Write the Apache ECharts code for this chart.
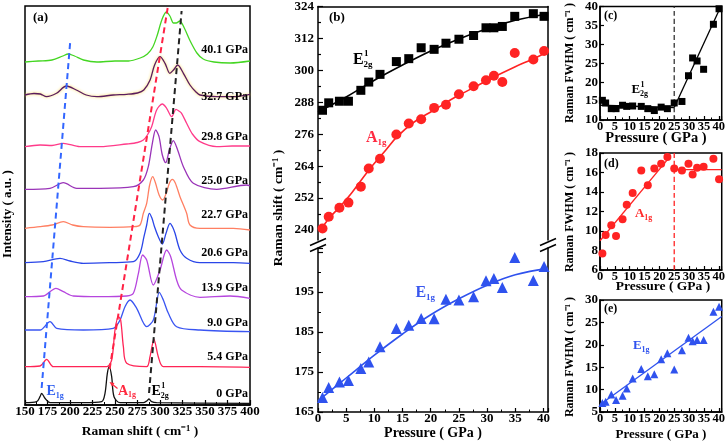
<!DOCTYPE html>
<html><head><meta charset="utf-8">
<script src="https://cdn.jsdelivr.net/npm/echarts@6/dist/echarts.min.js"></script>
<style>html,body{margin:0;padding:0;background:#fff}#c{width:728px;height:442px}</style>
</head><body><div id="c"></div>
<script>
// ================= DATA =================
// (a) Raman spectra: [Raman shift (cm-1), stacked intensity (a.u.)]
const spec40 = [[150,343],[165,344],[180,345],[192,349],[198,351],[205,349],[215,345],[230,343],[250,344],[265,344],[278,347],[286,351],[292,358],[297,370],[302,385],[307,393],[311,389],[315,382],[318,382],[322,384],[327,377],[333,365],[341,352],[348,346],[360,343],[378,342],[400,344]];
const spec32 = [[150,310],[160,311.5],[167,311],[174,308.3],[185,311.7],[196,319],[207,315],[218,310],[230,308.3],[248,310],[263,310.7],[275,312],[282,315],[289,325],[294,340],[300,348.3],[305.6,341.7],[311,331.7],[315,335],[319.6,340],[326,331.7],[333.3,320],[340,313],[344.4,310],[363,308.3],[381.5,308.3],[400,310.7]];
const spec29 = [[150,258.3],[166.7,260],[180,259.5],[192.6,261.7],[211,258.3],[233.3,258.3],[263,261],[275,262.5],[281.5,265],[286,270],[290.7,278.3],[296.3,295],[302.6,301],[307.4,296.7],[313,288.3],[317.8,295.7],[321,294],[324,291.7],[329.6,281.7],[336,271],[344.4,263.3],[363,258.3],[380,259],[400,259]];
const spec25 = [[150,215.7],[177.8,216.7],[192.6,222.3],[207.4,216.7],[233.3,216.7],[270.4,218.3],[281.5,225],[287,238.3],[291.5,261.7],[295.2,275],[298.9,268.3],[302.6,250],[306.3,242.3],[310.4,255],[314.8,264.3],[319.6,255],[326,238.3],[337,221.7],[363,215.7],[396.3,220],[400,219]];
const spec22 = [[150,176.7],[166.7,178.3],[180,180],[192.6,183.3],[203,180],[214.8,178.3],[244.4,177.7],[270.4,178.3],[277.8,180],[281.5,191.7],[285.2,201.7],[288.5,220],[291.9,228.3],[295,222],[299,210],[303,205],[307,212],[310.5,222],[313.7,225.7],[317,222],[322.2,208.3],[329.6,191.7],[333.3,180],[344.4,176.7],[381.5,176.7],[400,175]];
const spec20 = [[150,142.3],[170.4,143.3],[188.9,146.7],[200,144],[214.8,141.7],[244.4,142.3],[270.4,143.3],[277.8,151.7],[282.2,168.3],[285.2,180],[288.1,191.7],[291,187],[294,178],[298.1,168.3],[302.6,161],[306.7,171.7],[311.1,181.7],[314,178],[316.7,171.7],[322.2,155],[329.6,146.7],[344.4,142.3],[381.5,142.3],[400,141.7]];
const spec13 = [[150,108.3],[170.4,109],[184.4,116.7],[192.6,113.3],[203.7,109],[233.3,108.3],[263,109],[270.4,111.7],[276,131.7],[280.7,150],[285.2,145],[292.6,120],[300,135],[307.4,155],[311.9,148.3],[318.5,125],[324,115],[344.4,107.7],[377.8,109],[400,106.7]];
const spec9  = [[150,75],[166.7,75],[177.8,83.3],[185.2,76.7],[214.8,75],[248.1,76.7],[255.6,85],[261.1,98.3],[266.7,105],[274.1,96.7],[285.2,78.3],[292.6,85],[299.3,112.7],[303.7,105],[309.3,91.7],[318.5,78.3],[344.4,75],[400,73.3]];
const spec5  = [[150,38.3],[166.7,39],[174.1,45.7],[181.5,38.3],[214.8,38.3],[240.7,38.3],[246.3,45],[250,75],[253.7,88.3],[256.3,85],[259.3,58.3],[263,41.7],[285.2,38.3],[288.9,48.3],[293.3,65.7],[298.1,48.3],[303.7,38.3],[344.4,38.3],[400,37.7]];
const spec0  = [[150,2.3],[163,3.3],[166.7,8.3],[168.5,11.7],[172.2,6.7],[177.8,2.3],[214.8,2.3],[235.2,3.3],[238.9,11.7],[241.5,31.7],[243.7,38.3],[246.3,28.3],[248.9,8.3],[255.6,2.3],[281.5,2.3],[285.2,4],[287.8,6],[290.7,3.3],[296.3,2.3],[400,1.7]];
const spectraLabels = ['40.1 GPa','32.7 GPa','29.8 GPa','25.0 GPa','22.7 GPa','20.6 GPa','13.9 GPa','9.0 GPa','5.4 GPa','0 GPa'];
// (a) guide lines following the modes
const guideE1g = [[168.5,17],[200.3,364]];
const guideA1g = [[244,36],[308.5,397]];
const guideE2g = [[287.8,12],[324,394]];

// (b)-(e) pressures (GPa)
const pressure = [0.8,1.9,3.8,5.4,7.6,9.0,11.0,13.9,16.1,18.3,20.6,22.7,25.0,27.6,29.8,31.2,32.7,34.9,38.2,40.1];
// (b) Raman shift (cm-1)
const e2gShift = [285.0,287.8,288.4,288.4,292.5,295.6,298.5,303.3,304.4,308.5,307.9,310.2,311.7,313.1,316.0,316.0,316.5,320.3,321.3,320.3];
const a1gShift = [240.6,245.0,248.4,250.3,256.3,263.1,266.8,275.9,280.0,281.6,285.9,287.1,291.0,294.0,296.3,298.0,295.6,306.5,304.1,307.3];
const e1gShift = [168.6,171.1,172.5,172.9,175.9,177.5,181.3,185.9,186.7,188.4,188.3,193.2,193.0,193.8,197.8,198.4,196.1,203.6,197.9,201.4];
const e2gFitP = [0,5,10,15,20,25,30,35,40.8];
const e2gFitV = [284.4,290.0,296.3,302.0,307.3,311.8,315.6,318.8,321.3];
const a1gFitP = [0.5,2,4,6,9,12,14,17,20.5,24,27.6,31,34.9,38,40.8];
const a1gFitV = [240,244.5,249,254,262.5,270,275,280.5,285,289.5,293.5,297.3,301.3,304.2,307];
const e1gFitP = [0,5,10,15,20,25,30,35,40.8];
const e1gFitV = [167.8,173.5,179.2,184.5,189.3,193.3,196.7,199.3,200.9];
// (c)-(e) FWHM (cm-1)
const e2gFwhm = [15.2,14.5,13.0,13.0,13.9,13.6,13.7,13.6,13.0,12.5,13.4,13.0,14.5,14.9,21.7,26.4,25.6,23.4,35.3,39.4];
const a1gFwhm = [7.7,9.6,10.6,9.5,11.2,12.7,13.9,16.2,14.7,16.4,16.9,17.6,16.4,16.2,16.9,15.8,16.5,16.6,17.4,15.3];
const e1gFwhm = [7.0,7.3,8.9,7.7,8.65,10.25,12.45,14.6,13.0,13.4,16.8,18.1,14.5,18.8,21.6,20.8,21.05,21.05,27.4,28.5];
const cFit1 = [[0,13.9],[25,13.3]];
const cFit2 = [[25,13.3],[40.8,40.2]];
const dFit1 = [[0,9.0],[23.5,17.6]];
const dFit2 = [[25,16.3],[41,16.3]];
const eFit  = [[0,6.6],[41,26.3]];
const transitionP = 25;

// ================= CHART =================
const FF = 'Liberation Serif';
const FONT = (s) => `bold ${s}px "Liberation Serif", serif`;
const lab = (s, extra) => Object.assign({fontFamily: FF, fontWeight: 'bold', fontSize: s, color: '#000'}, extra || {});
const AL = {lineStyle: {color: '#000', width: 1.5}};
const zip = (xs, ys) => xs.map((x, i) => [x, ys[i]]);

const chart = echarts.init(document.getElementById('c'), null, {renderer: 'canvas'});

const boxGrid = (l, t, w, h, show) => ({left: l, top: t, width: w, height: h, show: show, borderColor: '#000', borderWidth: 1.5, backgroundColor: 'transparent', containLabel: false});
const grids = [
  boxGrid(25, 6, 225, 399, true),     // a
  boxGrid(318, 6, 230, 234, false),   // b upper
  boxGrid(318, 248, 230, 164, false), // b lower
  boxGrid(600, 6, 122, 114, true),    // c
  boxGrid(600, 153, 122, 117, true),  // d
  boxGrid(600, 300, 122, 112, true)   // e
];

const tickIn = (len) => ({show: true, inside: true, length: len, lineStyle: {color: '#000', width: 1.2}});
const minorIn = (len) => ({show: true, splitNumber: 2, length: len, lineStyle: {color: '#000', width: 1}});
const noSplit = {show: false};

const pAxis = (gi, max, fs) => ({
  gridIndex: gi, type: 'value', min: 0, max: max, interval: 5, position: 'bottom',
  axisLine: AL, axisTick: tickIn(4), minorTick: minorIn(2.5), splitLine: noSplit, minorSplitLine: noSplit,
  axisLabel: lab(fs, {margin: 0, showMaxLabel: false})
});

const upperMajor = [240,252,264,276,288,300,312,324];
const upperMinor = [246,258,270,282,294,306,318];

const xAxes = [
  {gridIndex: 0, type: 'value', min: 150, max: 400, interval: 25, axisLine: AL, axisTick: tickIn(5), minorTick: minorIn(3), splitLine: noSplit, axisLabel: lab(13, {margin: 0})},
  {gridIndex: 1, type: 'value', min: 0, max: 40.8, position: 'top', axisLine: AL, axisTick: {show: false}, axisLabel: {show: false}, splitLine: noSplit},
  pAxis(2, 40.8, 13),
  pAxis(3, 41, 12.5),
  pAxis(4, 41, 12.5),
  pAxis(5, 41, 12.5)
];

const yAxes = [
  {gridIndex: 0, type: 'value', min: 0, max: 399, show: false},
  {gridIndex: 1, type: 'value', min: 236.25, max: 324, position: 'left', axisLine: AL,
   axisTick: Object.assign(tickIn(5), {customValues: upperMajor}),
   axisLabel: lab(13, {margin: 4, customValues: upperMajor}), splitLine: noSplit},
  {gridIndex: 1, type: 'value', min: 236.25, max: 324, position: 'left', axisLine: {show: false},
   axisTick: Object.assign(tickIn(3), {customValues: upperMinor}), axisLabel: {show: false}, splitLine: noSplit},
  {gridIndex: 1, type: 'value', min: 236.25, max: 324, position: 'right', axisLine: AL, axisTick: {show: false}, axisLabel: {show: false}, splitLine: noSplit},
  {gridIndex: 2, type: 'value', min: 165, max: 206, interval: 10, position: 'left', axisLine: AL,
   axisTick: tickIn(5), minorTick: minorIn(3), splitLine: noSplit,
   axisLabel: lab(13, {margin: 4, showMaxLabel: false, formatter: (v) => (v > 200 ? '' : String(v))})},
  {gridIndex: 2, type: 'value', min: 165, max: 206, position: 'right', axisLine: AL, axisTick: {show: false}, axisLabel: {show: false}, splitLine: noSplit},
  {gridIndex: 3, type: 'value', min: 10, max: 40, interval: 5, axisLine: AL, axisTick: tickIn(4), splitLine: noSplit, axisLabel: lab(13, {margin: 2})},
  {gridIndex: 4, type: 'value', min: 6, max: 18, interval: 2, axisLine: AL, axisTick: tickIn(4), splitLine: noSplit, axisLabel: lab(13, {margin: 2})},
  {gridIndex: 5, type: 'value', min: 5, max: 30, interval: 5, axisLine: AL, axisTick: tickIn(4), splitLine: noSplit, axisLabel: lab(13, {margin: 2})}
];

const specDefs = [
  [spec40, '#44d622', null],
  [spec32, '#5a1c5e', '#ffd84a'],
  [spec29, '#ff3b8a', null],
  [spec25, '#9a34b8', null],
  [spec22, '#ff7f62', null],
  [spec20, '#2a46e8', null],
  [spec13, '#b646de', null],
  [spec9,  '#3a55f2', null],
  [spec5,  '#ff2456', null],
  [spec0,  '#111111', null]
];

const series = [];
specDefs.forEach(([d, c, glow]) => {
  const ls = {color: c, width: 1.3};
  if (glow) { ls.shadowColor = glow; ls.shadowBlur = 3; }
  series.push({type: 'line', xAxisIndex: 0, yAxisIndex: 0, data: d, smooth: 0.3, showSymbol: false, symbol: 'none', lineStyle: ls, silent: true, z: 3});
});
[[guideE1g, '#3366ff'], [guideA1g, '#ff2244'], [guideE2g, '#222222']].forEach(([d, c]) => {
  series.push({type: 'line', xAxisIndex: 0, yAxisIndex: 0, data: d, showSymbol: false, symbol: 'none', lineStyle: {color: c, width: 2, type: [6, 4]}, z: 4});
});

const line = (xi, yi, d, c, w, type) => ({type: 'line', xAxisIndex: xi, yAxisIndex: yi, data: d, smooth: 0.4, showSymbol: false, symbol: 'none', lineStyle: {color: c, width: w || 1.5, type: type || 'solid'}, z: 3});
const scat = (xi, yi, d, c, sym, size) => ({type: 'scatter', xAxisIndex: xi, yAxisIndex: yi, data: d, symbol: sym, symbolSize: size, itemStyle: {color: c, opacity: 1}, clip: false, z: 5});

const BLK = '#000000', RED = '#ff2323', BLU = '#2f52ee';
// (b)
series.push(line(1, 1, zip(e2gFitP, e2gFitV), BLK, 1.6));
series.push(scat(1, 1, zip(pressure, e2gShift), BLK, 'rect', 9));
series.push(line(1, 1, zip(a1gFitP, a1gFitV), RED, 1.6));
series.push(scat(1, 1, zip(pressure, a1gShift), RED, 'circle', 10));
series.push(line(2, 4, zip(e1gFitP, e1gFitV), BLU, 1.6));
series.push(scat(2, 4, zip(pressure, e1gShift), BLU, 'triangle', 11));
// (c)
series.push(line(3, 6, cFit1, BLK, 1.3));
series.push(line(3, 6, cFit2, BLK, 1.3));
series.push(line(3, 6, [[transitionP, 10], [transitionP, 40]], '#333', 1.3, [5, 3]));
series.push(scat(3, 6, zip(pressure, e2gFwhm), BLK, 'rect', 7));
// (d)
series.push(line(4, 7, dFit1, RED, 1.3));
series.push(line(4, 7, dFit2, RED, 1.3));
series.push(line(4, 7, [[transitionP, 6], [transitionP, 18]], RED, 1.3, [5, 3]));
series.push(scat(4, 7, zip(pressure, a1gFwhm), RED, 'circle', 8));
// (e)
series.push(line(5, 8, eFit, BLU, 1.3));
series.push(scat(5, 8, zip(pressure, e1gFwhm), BLU, 'triangle', 8));

// ---------- graphic text ----------
const G = [];
const T = (text, x, y, size, color, align, rot) => G.push({type: 'text', x: x, y: y, rotation: rot || 0, z: 100,
  style: {text: text, fill: color || '#000', font: FONT(size), align: align || 'left', verticalAlign: 'middle'}});
// mode label: base letter + optional superscript + subscript
const mode = (x, y, base, sup, sub, color, size) => {
  const bw = (base === 'A' ? 0.72 : 0.66) * size;
  const ss = Math.round(size * 0.58);
  T(base, x, y, size, color, 'left');
  if (sup) T(sup, x + bw + 0.5, y - size * 0.42, ss, color, 'left');
  T(sub, x + bw, y + size * 0.3, ss, color, 'left');
};

// panel tags
T('(a)', 33, 18, 13); T('(b)', 329, 18, 13); T('(c)', 604, 16, 12); T('(d)', 604, 164, 12); T('(e)', 604, 309, 12);
// pressure labels in (a)
const labelY = [50, 96.7, 136.7, 180.7, 215, 253.3, 288.3, 322.7, 357.3, 394];
spectraLabels.forEach((s, i) => T(s, 248, labelY[i], 12, '#000', 'right'));
// axis titles
T('Intensity ( a.u. )', 8, 214, 13, '#000', 'center', Math.PI / 2);
T('Raman shift ( cm\u207B\u00B9 )', 140, 432, 13.5, '#000', 'center');
T('Raman shift ( cm\u207B\u00B9 )', 279, 208, 13.5, '#000', 'center', Math.PI / 2);
T('Pressure ( GPa )', 433, 433, 14, '#000', 'center');
T('Raman FWHM ( cm\u207B\u00B9 )', 570, 63, 12, '#000', 'center', Math.PI / 2);
T('Pressure ( GPa )', 656, 138.5, 14.5, '#000', 'center');
T('Raman FWHM ( cm\u207B\u00B9 )', 570, 212, 12, '#000', 'center', Math.PI / 2);
T('Pressure ( GPa )', 663, 287, 13.5, '#000', 'center');
T('Raman FWHM ( cm\u207B\u00B9 )', 570, 357, 12, '#000', 'center', Math.PI / 2);
T('Pressure ( GPa )', 661, 434.5, 13, '#000', 'center');
// mode labels
mode(46.5, 391.5, 'E', null, '1g', '#3060f0', 14);
mode(118, 391, 'A', null, '1g', '#ff2a40', 14);
mode(151.5, 391.5, 'E', '1', '2g', '#000', 14);
mode(353, 60, 'E', '1', '2g', '#000', 16);
mode(366, 137.5, 'A', null, '1g', '#ff2a40', 16);
mode(415.5, 293, 'E', null, '1g', '#3a58ee', 16);
mode(631.5, 90, 'E', '1', '2g', '#000', 13);
mode(635, 214, 'A', null, '1g', '#ff2a2a', 13);
mode(633, 346, 'E', null, '1g', '#2f52ee', 13);
// red arrow in (a)
G.push({type: 'line', z: 100, shape: {x1: 117.5, y1: 388.5, x2: 112, y2: 384}, style: {stroke: '#ff2a40', lineWidth: 1.2}});
G.push({type: 'polygon', z: 100, shape: {points: [[109.5, 382], [114.5, 383], [112, 386.5]]}, style: {fill: '#ff2a40'}});
// axis breaks in (b)
[[318, 244.5], [548, 244.5]].forEach(([cx, cy]) => {
  G.push({type: 'line', z: 100, shape: {x1: cx - 8, y1: cy + 1, x2: cx + 8, y2: cy - 6}, style: {stroke: '#000', lineWidth: 1.5}});
  G.push({type: 'line', z: 100, shape: {x1: cx - 8, y1: cy + 7, x2: cx + 8, y2: cy}, style: {stroke: '#000', lineWidth: 1.5}});
});

chart.setOption({
  animation: false,
  backgroundColor: '#fff',
  grid: grids,
  xAxis: xAxes,
  yAxis: yAxes,
  series: series,
  graphic: G
});
</script></body></html>
